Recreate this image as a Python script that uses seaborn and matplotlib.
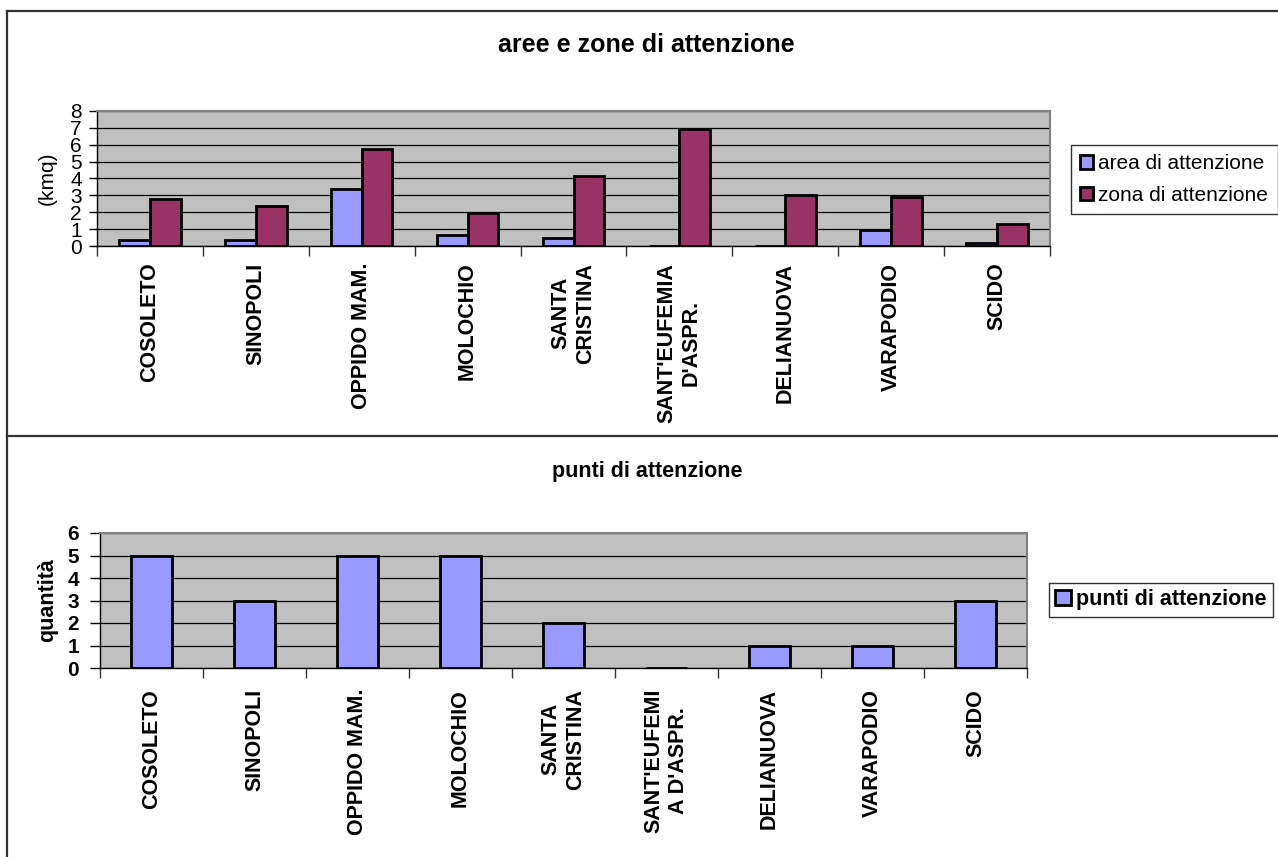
import matplotlib
matplotlib.use("Agg")
import matplotlib.pyplot as plt
import seaborn as sns
import pandas as pd
import numpy as np
from matplotlib.lines import Line2D
from matplotlib.ticker import FixedLocator

plt.rcParams['font.family'] = ['Liberation Sans', 'DejaVu Sans']

# ---------------- data ----------------
labels_top = ["COSOLETO", "SINOPOLI", "OPPIDO MAM.", "MOLOCHIO", "SANTA\nCRISTINA",
              "SANT'EUFEMIA\nD'ASPR.", "DELIANUOVA", "VARAPODIO", "SCIDO"]
labels_bottom = ["COSOLETO", "SINOPOLI", "OPPIDO MAM.", "MOLOCHIO", "SANTA\nCRISTINA",
                 "SANT'EUFEMI\nA D'ASPR.", "DELIANUOVA", "VARAPODIO", "SCIDO"]
area_attenzione = [0.38, 0.36, 3.37, 0.65, 0.50, 0.0, 0.0, 0.95, 0.20]
zona_attenzione = [2.77, 2.38, 5.74, 1.94, 4.12, 6.93, 3.01, 2.93, 1.31]
punti_attenzione = [5, 3, 5, 5, 2, 0, 1, 1, 3]
series_top = ["area di attenzione", "zona di attenzione"]
series_bottom = ["punti di attenzione"]
yticks_top = [0, 1, 2, 3, 4, 5, 6, 7, 8]
yticks_bottom = [0, 1, 2, 3, 4, 5, 6]

W, H = 1278, 857
def fx(px): return px / W
def fy(py): return 1 - py / H

fig = plt.figure(figsize=(W / 100, H / 100), dpi=100)
fig.patch.set_facecolor("white")

def style_axes(ax, yticks):
    ax.set_facecolor("#C0C0C0")
    ax.set_ylim(yticks[0], yticks[-1])
    ax.set_xlim(-0.5, 8.5)
    ax.yaxis.set_major_locator(FixedLocator(yticks))
    ax.yaxis.grid(True, color="black", linewidth=0.9)
    ax.xaxis.grid(False)
    ax.set_axisbelow(True)
    ax.xaxis.set_minor_locator(FixedLocator(np.arange(-0.5, 9, 1)))
    ax.tick_params(axis="x", which="minor", length=7, width=1, color="#333333")
    for s in ["top", "right"]:
        ax.spines[s].set_color("#808080")
        ax.spines[s].set_linewidth(1.5)
    for s in ["left", "bottom"]:
        ax.spines[s].set_color("black")
        ax.spines[s].set_linewidth(1.0)

# ---------------- top chart ----------------
ax1 = fig.add_axes([fx(97), fy(246), (1050 - 97) / W, (246 - 111) / H])
df1 = pd.DataFrame({
    "comune": labels_top * 2,
    "valore": area_attenzione + zona_attenzione,
    "serie": [series_top[0]] * len(labels_top) + [series_top[1]] * len(labels_top),
})
sns.barplot(data=df1, x="comune", y="valore", hue="serie", order=labels_top,
            hue_order=series_top, palette=["#9999FF", "#993366"], saturation=1,
            width=0.58, edgecolor="black", linewidth=2, errorbar=None, ax=ax1)
style_axes(ax1, yticks_top)
ax1.set_xticks(range(len(labels_top)))
ax1.set_xticklabels(labels_top, rotation=90, fontsize=15.5, fontweight="bold",
                    multialignment="center")
ax1.tick_params(axis="x", which="major", length=0, pad=12)
ax1.tick_params(axis="y", length=6, width=1, pad=5, labelsize=15)
ax1.set_xlabel("")
ax1.set_ylabel("(kmq)", fontsize=15)
ax1.yaxis.set_label_coords(-0.042, 0.5)
h1, l1 = ax1.get_legend_handles_labels()
if ax1.get_legend() is not None:
    ax1.get_legend().remove()
leg1 = fig.legend(h1, l1, loc="upper left", bbox_to_anchor=(fx(1071), fy(145)),
                  bbox_transform=fig.transFigure, fontsize=15, frameon=True,
                  fancybox=False, borderaxespad=0, borderpad=0.45, labelspacing=0.6,
                  handlelength=0.62, handleheight=0.62, handletextpad=0.25)
leg1.get_frame().set_edgecolor("black")
leg1.get_frame().set_linewidth(1.0)

fig.text(fx(646.5), fy(52), "aree e zone di attenzione", ha="center", va="baseline",
         fontsize=18, fontweight="bold")

# ---------------- bottom chart ----------------
ax2 = fig.add_axes([fx(100), fy(668), (1027 - 100) / W, (668 - 533) / H])
df2 = pd.DataFrame({
    "comune": labels_bottom,
    "valore": punti_attenzione,
    "serie": series_bottom * len(labels_bottom),
})
sns.barplot(data=df2, x="comune", y="valore", hue="serie", order=labels_bottom,
            hue_order=series_bottom, palette=["#9999FF"], saturation=1,
            width=0.4, edgecolor="black", linewidth=2, errorbar=None, ax=ax2)
style_axes(ax2, yticks_bottom)
ax2.set_xticks(range(len(labels_bottom)))
ax2.set_xticklabels(labels_bottom, rotation=90, fontsize=15.5, fontweight="bold",
                    multialignment="center")
ax2.tick_params(axis="x", which="major", length=0, pad=15)
ax2.tick_params(axis="y", length=7, width=1, pad=8, labelsize=15)
for lab in ax2.get_yticklabels():
    lab.set_fontweight("bold")
ax2.set_xlabel("")
ax2.set_ylabel("quantità", fontsize=15.5, fontweight="bold")
ax2.yaxis.set_label_coords(-0.045, 0.5)
h2, l2 = ax2.get_legend_handles_labels()
if ax2.get_legend() is not None:
    ax2.get_legend().remove()
leg2 = fig.legend(h2, l2, loc="upper left", bbox_to_anchor=(fx(1049), fy(583)),
                  bbox_transform=fig.transFigure, frameon=True, fancybox=False,
                  borderaxespad=0, borderpad=0.3, handlelength=0.7, handleheight=0.7,
                  handletextpad=0.25, prop={"size": 15.5, "weight": "bold"})
leg2.get_frame().set_edgecolor("black")
leg2.get_frame().set_linewidth(1.0)

fig.text(fx(647.5), fy(477), "punti di attenzione", ha="center", va="baseline",
         fontsize=15.5, fontweight="bold")

# ---------------- frame lines ----------------
for xs, ys in [([fx(7), 1.0], [fy(11), fy(11)]),
               ([fx(7), fx(7)], [fy(11), 0.0]),
               ([fx(7), 1.0], [fy(436), fy(436)])]:
    fig.add_artist(Line2D(xs, ys, transform=fig.transFigure, color="#333333", linewidth=1.6))

fig.savefig("out.png", dpi=100)
